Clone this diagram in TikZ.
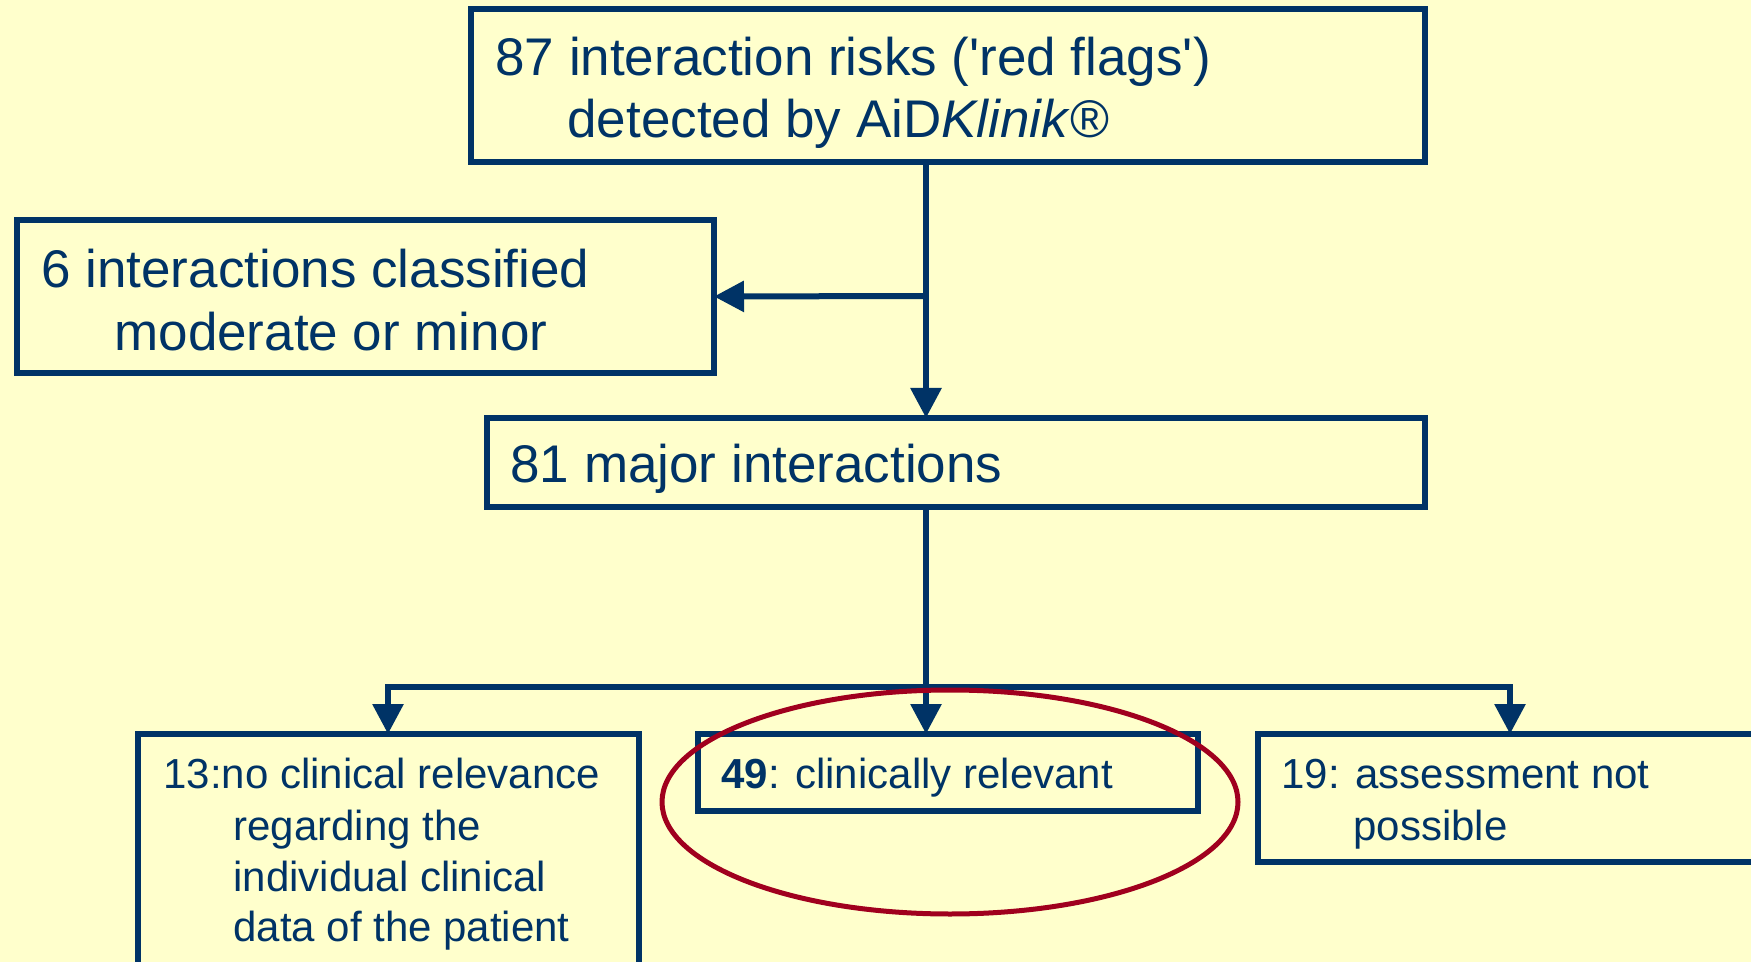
\documentclass[tikz,border=0pt]{standalone}
\usepackage{fontspec}
\setmainfont{Liberation Sans}
\usetikzlibrary{arrows.meta,shapes.geometric}
\definecolor{bg}{HTML}{FFFFCC}
\definecolor{navy}{HTML}{003366}
\definecolor{ringred}{HTML}{A0001E}
\begin{document}
\begin{tikzpicture}[x=0.5pt,y=-0.5pt,
 box/.style={draw=navy, line width=3pt, inner sep=0pt, outer sep=0pt},
 big/.style={anchor=base west, inner sep=0pt, text=navy, font=\fontsize{26.5}{31}\selectfont},
 small/.style={anchor=base west, inner sep=0pt, text=navy, font=\fontsize{21}{25}\selectfont},
 conn/.style={draw=navy, line width=3pt},
 arr/.style={conn, -{Triangle[length=15pt,width=15pt]}},
 ring/.style={draw=ringred, line width=2.5pt, ellipse, inner sep=0pt, outer sep=0pt}
]
\fill[bg] (0,0) rectangle (1751,962);
\useasboundingbox (0,0) rectangle (1751,962);
\begin{scope}
\clip (0,0) rectangle (1751,962);
% boxes
\node[box, minimum width=477pt, minimum height=76.5pt] (top) at (948,85.5) {};
\node[box, minimum width=348.5pt, minimum height=76.5pt] (left) at (365.5,296.5) {};
\node[box, minimum width=469pt, minimum height=44.5pt] (mid) at (956,462.5) {};
\node[box, minimum width=250.5pt, minimum height=133pt] (A) at (388.5,867) {};
\node[box, minimum width=250pt, minimum height=38.5pt] (B) at (948,772.5) {};
\node[box, minimum width=271pt, minimum height=64pt] (C) at (1529,798) {};
% texts
\node[big] (t1a) at (495,76) {87 interaction risks (\textquotesingle red flags\textquotesingle)};
\node[big] (t1b) at (567,138) {detected by AiD\textit{Klinik}®};
\node[big] (t2a) at (41,288) {6 interactions classified};
\node[big] (t2b) at (114,351) {moderate or minor};
\node[big] (t3) at (510,482) {81 major interactions};
\node[small] (ta1) at (163,788) {13:no clinical relevance};
\node[small] (ta2) at (233,840) {regarding the};
\node[small] (ta3) at (233,891) {individual clinical};
\node[small] (ta4) at (233,941) {data of the patient};
\node[small] (tb) at (721,788) {\textbf{49}: clinically relevant};
\node[small] (tc1) at (1281,788) {19: assessment not};
\node[small] (tc2) at (1353,840) {possible};
% connectors
\coordinate (j1) at (926,296);
\coordinate (j2) at (926,687);
\coordinate (cA) at (388,687);
\coordinate (cC) at (1510,687);
\draw[arr] (j1 |- top.south) -- (j1 |- mid.north);
\draw[arr] (j1) -- (left.east);
\draw[conn] (j2 |- mid.south) -- (j2);
\draw[arr] (j2) -| (cA |- A.north);
\draw[arr] (j2) -| (cC |- C.north);
\draw[arr] (j2) -- (j2 |- B.north);
% ring
\node[ring, minimum width=288pt, minimum height=112pt] (ring) at (950,802) {};
\end{scope}
\end{tikzpicture}
\end{document}
